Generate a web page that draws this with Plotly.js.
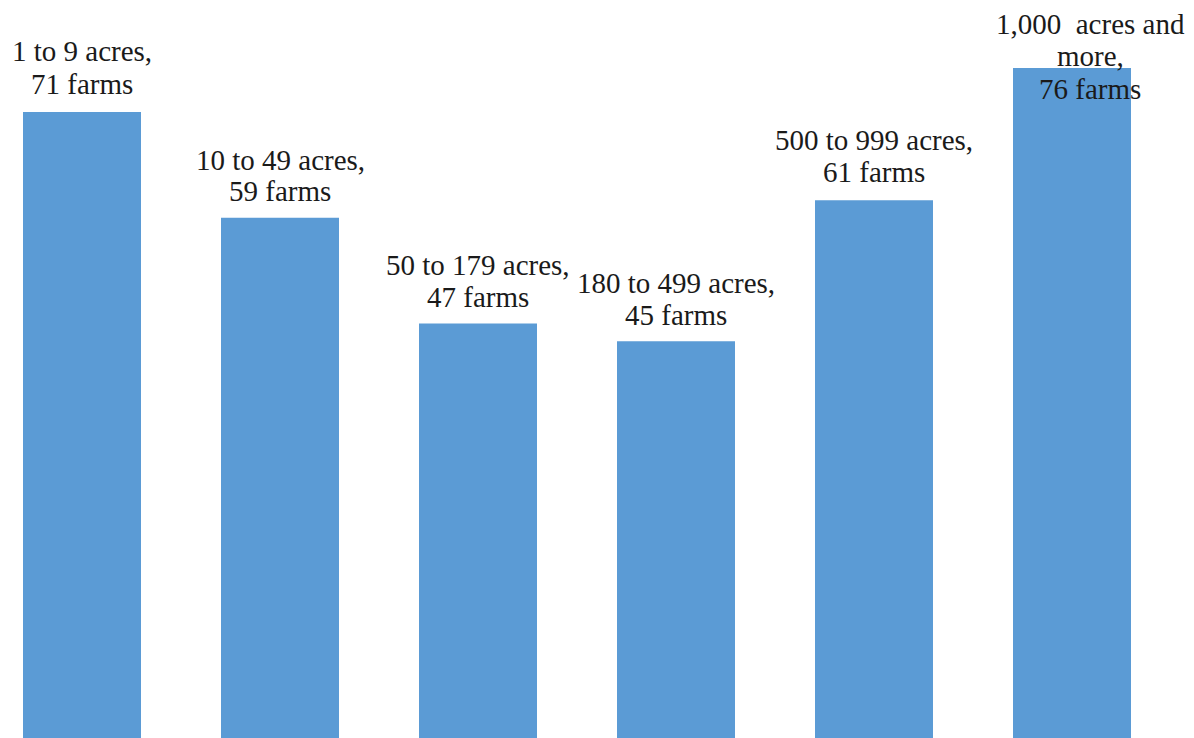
<!DOCTYPE html>
<html>
<head>
<meta charset="utf-8">
<script src="https://cdn.plot.ly/plotly-3.0.1.min.js"></script>
<style>html,body{margin:0;padding:0;background:#fff;}#chart{width:1194px;height:738px;}</style>
</head>
<body>
<div id="chart"></div>
<script>
// Data
const categories = ["1 to 9 acres", "10 to 49 acres", "50 to 179 acres", "180 to 499 acres", "500 to 999 acres", "1,000 acres and more"];
const farms = [71, 59, 47, 45, 61, 76];
const labelLines = [
  ["1 to 9 acres,", "71 farms"],
  ["10 to 49 acres,", "59 farms"],
  ["50 to 179 acres,", "47 farms"],
  ["180 to 499 acres,", "45 farms"],
  ["500 to 999 acres,", "61 farms"],
  ["1,000  acres and", "more,", "76 farms"]
];

// Label placement (styling, not data)
const lineGap = [33, 31, 31.5, 32, 32, 32.5];
const lastLineShift = [28, 27, 27, 26, 28, -21];
const xShift = [0, 0, 0, 0, 0, 18];

const annotations = [];
labelLines.forEach((lines, i) => {
  const n = lines.length;
  lines.forEach((t, j) => {
    annotations.push({
      x: i, y: farms[i], xref: 'x', yref: 'y',
      text: t, showarrow: false,
      xanchor: 'center', yanchor: 'middle',
      yshift: lastLineShift[i] + (n - 1 - j) * lineGap[i],
      xshift: xShift[i],
      font: {family: 'Liberation Serif, Times New Roman, serif', size: 29, color: '#1a1a1a'}
    });
  });
});

const trace = {
  type: 'bar',
  x: categories.map((c, i) => i),
  y: farms,
  marker: {color: '#5B9BD5'},
  width: 0.596,
  hoverinfo: 'skip'
};

const layout = {
  width: 1194, height: 738,
  margin: {l: 0, r: 0, t: 0, b: 0, pad: 0},
  paper_bgcolor: '#ffffff', plot_bgcolor: '#ffffff',
  showlegend: false,
  font: {family: 'Liberation Serif, Times New Roman, serif'},
  xaxis: {range: [-82/198, (1194-82)/198], visible: false, fixedrange: true},
  yaxis: {range: [0, 83.7], visible: false, fixedrange: true},
  annotations: annotations
};

Plotly.newPlot('chart', [trace], layout, {displayModeBar: false, staticPlot: true});
</script>
</body>
</html>
